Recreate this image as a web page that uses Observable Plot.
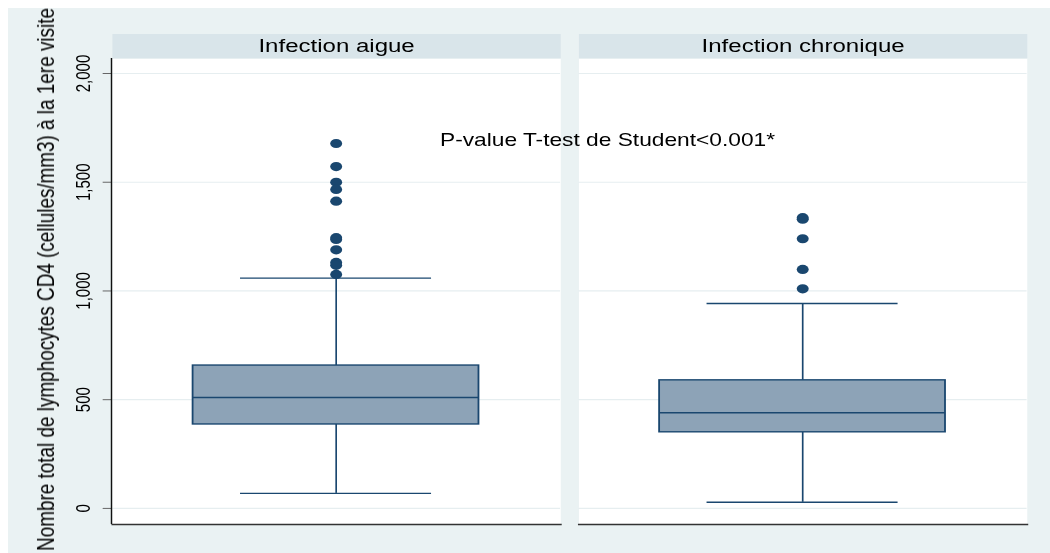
<!DOCTYPE html>
<html><head><meta charset="utf-8">
<script src="https://cdn.jsdelivr.net/npm/d3@7"></script>
<script src="https://cdn.jsdelivr.net/npm/@observablehq/plot@0.6"></script>
<style>
html,body{margin:0;padding:0;background:#fff;width:1050px;height:553px;overflow:hidden;}
#bg{position:absolute;left:8px;top:8px;width:1042px;height:545px;background:#eaf2f3;}
#chart{position:absolute;left:0;top:0;transform-origin:0 0;}
</style></head><body><div id="bg"></div><div id="chart"></div>
<script>
// ---- data ----
const groups = ["Infection aigue", "Infection chronique"];
const metric = "CD4";
const q1 = [386, 350];
const median = [510, 440];
const q3 = [657, 589];
const whiskerLow = [69, 28];
const whiskerHigh = [1059, 942];
const outliersAigue = [1678, 1572, 1500, 1467, 1413, 1245, 1237, 1189, 1131, 1118, 1076];
const outliersChronique = [1337, 1330, 1240, 1099, 1010];
const yTicks = [0, 500, 1000, 1500, 2000];
const yTitle = "Nombre total de lymphocytes CD4 (cellules/mm3) à la 1ere visite";
const noteText = "P-value T-test de Student<0.001*";
const noteY = 1692;

const boxes = groups.map((g, i) => ({group: g, q1: q1[i], median: median[i], q3: q3[i], lo: whiskerLow[i], hi: whiskerHigh[i]}));
const outliers = [
  ...outliersAigue.map(v => ({group: groups[0], value: v})),
  ...outliersChronique.map(v => ({group: groups[1], value: v}))
];
const notes = [{group: groups[0], y: noteY, text: noteText}];

// ---- layout ----
const W = 808, H = 553, S = 1050 / W;
const navy = "#1a476f", boxFill = "#8da3b7", strip = "#d9e5ea", grid = "#e6eef0";
const fxMetric = () => metric;

const plot = Plot.plot({
  width: W, height: H,
  marginLeft: 85.8, marginRight: 17.5, marginTop: 58, marginBottom: 29,
  style: {background: "transparent", overflow: "visible", fontFamily: "'Liberation Sans', Arial, sans-serif", color: "#000"},
  fx: {domain: groups, paddingInner: 0.0386, paddingOuter: 0, axis: null},
  x: {type: "band", domain: [metric], paddingInner: 0, paddingOuter: 0.281, axis: null},
  y: {domain: [-74, 2069]},
  marks: [
    Plot.frame({fill: "white", stroke: null}),
    Plot.frame({fill: strip, stroke: null, insetTop: -24.5, insetBottom: 466}),
    Plot.gridY(yTicks, {stroke: grid, strokeOpacity: 1, strokeWidth: 1.2}),
    Plot.axisY(yTicks, {tickSize: 7, tickPadding: 10, tickRotate: -90, tickFormat: d3.format(","), fontSize: 15, stroke: "#666"}),
    Plot.frame({anchor: "bottom", stroke: "#333", strokeWidth: 1.5}),
    Plot.ruleX(boxes, {fx: "group", x: fxMetric, y1: "q3", y2: "hi", stroke: navy, strokeWidth: 1.3}),
    Plot.ruleX(boxes, {fx: "group", x: fxMetric, y1: "lo", y2: "q1", stroke: navy, strokeWidth: 1.3}),
    Plot.barY(boxes, {fx: "group", x: fxMetric, y1: "q1", y2: "q3", fill: boxFill, stroke: navy, strokeWidth: 1.4}),
    Plot.tickY(boxes, {fx: "group", x: fxMetric, y: "median", stroke: navy, strokeWidth: 1.4}),
    Plot.tickY(boxes, {fx: "group", x: fxMetric, y: "hi", stroke: navy, strokeWidth: 1.4, insetLeft: 36.5, insetRight: 36.5}),
    Plot.tickY(boxes, {fx: "group", x: fxMetric, y: "lo", stroke: navy, strokeWidth: 1.4, insetLeft: 36.5, insetRight: 36.5}),
    Plot.dot(outliers, {fx: "group", x: fxMetric, y: "value", r: 4.6, fill: navy, stroke: null}),
    Plot.text(groups, {fx: d => d, text: d => d, frameAnchor: "top", lineAnchor: "middle", dy: -12.5, fontSize: 18.5, fill: "#000"}),
    Plot.text(notes, {fx: "group", y: "y", text: "text", frameAnchor: "right", dx: 36, textAnchor: "middle", lineAnchor: "middle", fontSize: 17.5, fill: "#000"}),
    Plot.text([yTitle], {fx: () => groups[0], text: d => d, frameAnchor: "left", textAnchor: "middle", lineAnchor: "middle", rotate: -90, dx: -51.2, dy: -12, fontSize: 18.9, fill: "#000"})
  ]
});
const chart = document.getElementById("chart");
chart.style.transform = `scaleX(${S})`;
chart.appendChild(plot);
// y axis line on the left panel only
d3.select(plot).append("line")
  .attr("x1", 85.8).attr("x2", 85.8).attr("y1", 58).attr("y2", 524)
  .attr("stroke", "#111").attr("stroke-width", 1.1);
</script>
</body></html>
